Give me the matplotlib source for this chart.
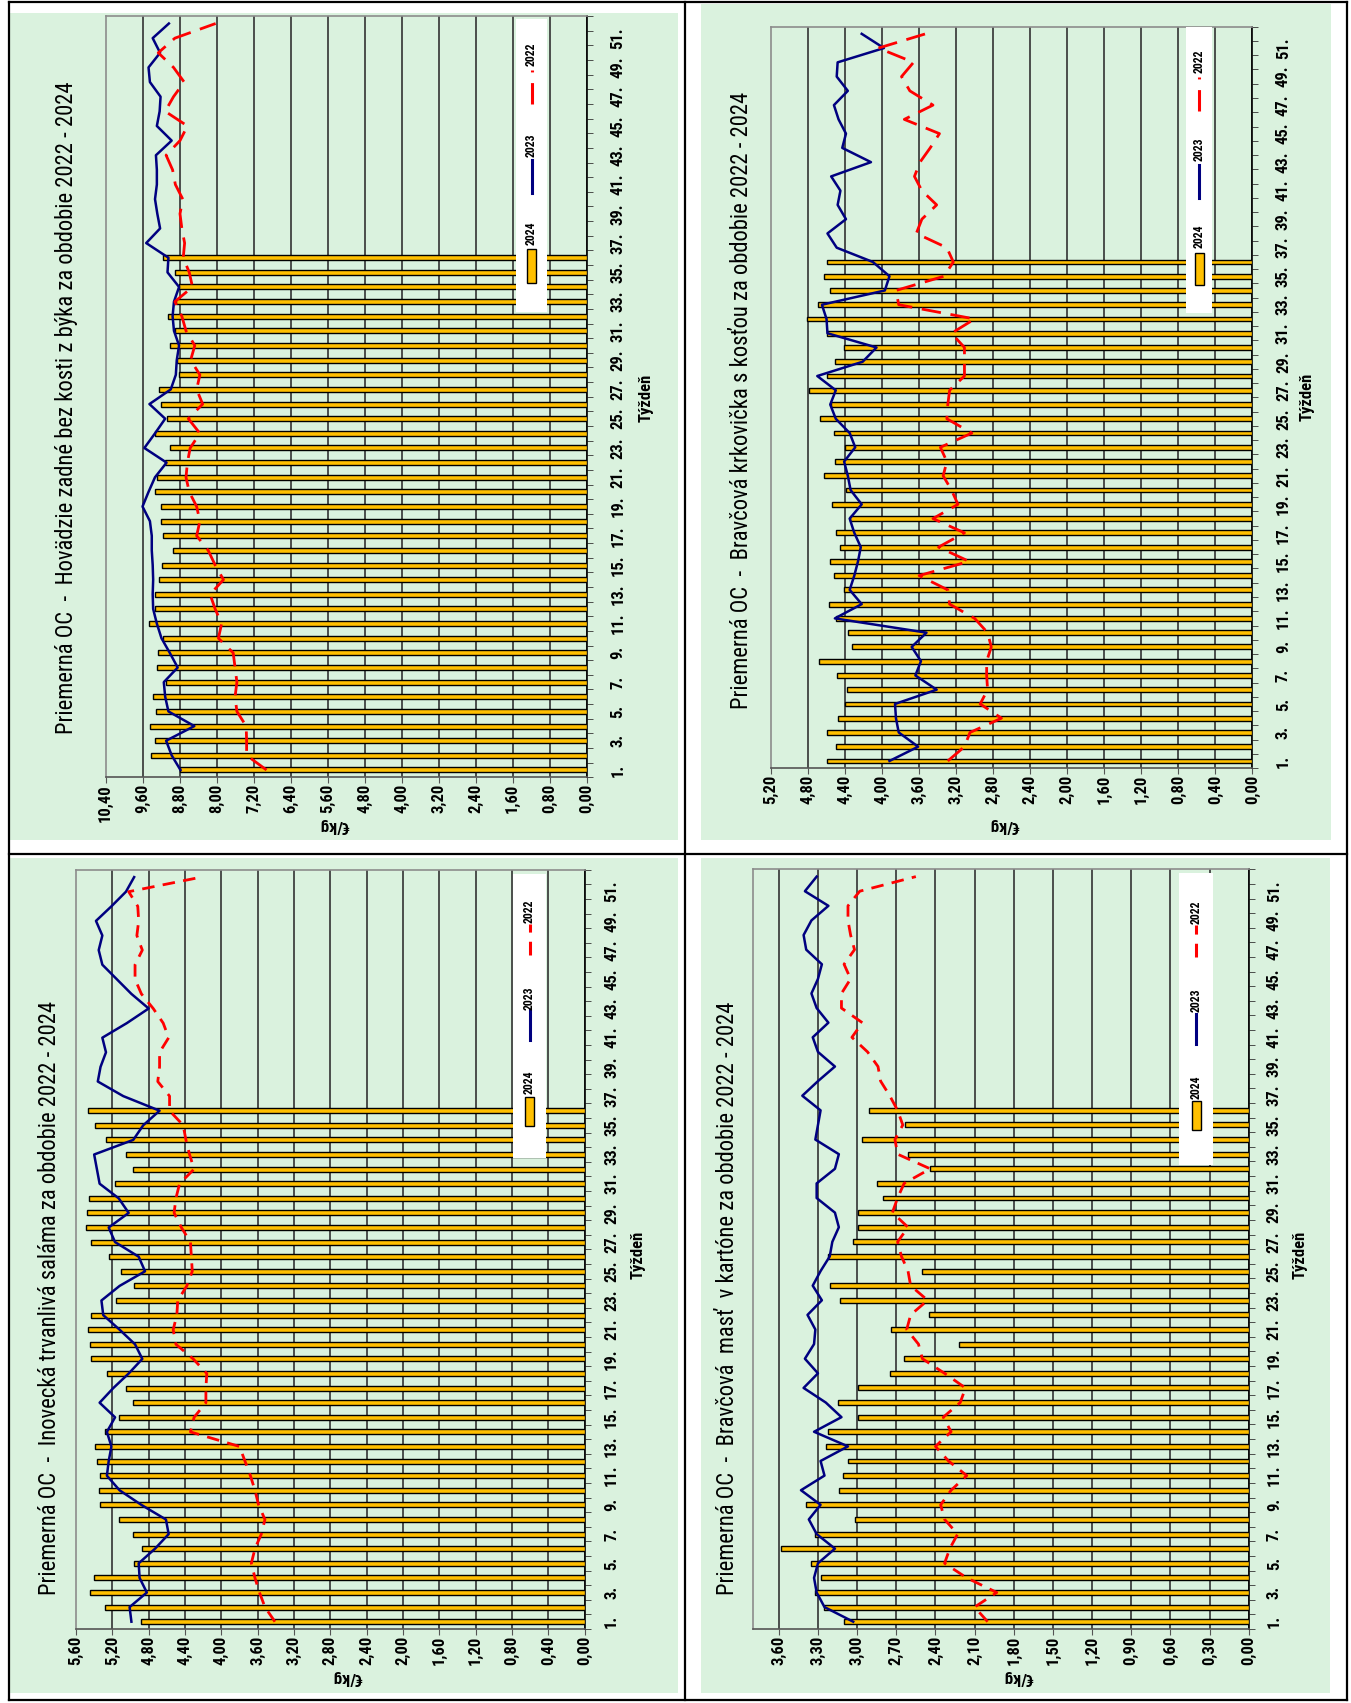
import numpy as np
import matplotlib
matplotlib.use("Agg")
import matplotlib.pyplot as plt
from matplotlib import font_manager
from matplotlib.patches import Rectangle
from matplotlib.lines import Line2D

W, H = 1351, 1703

weeks = np.arange(1, 53)
week_ticks = list(range(1, 52, 2))
week_labels = [f"{w}." for w in week_ticks]
series_names = ["2024", "2023", "2022"]

# Hovadzie zadne bez kosti z byka (EUR/kg)
beef_2024 = [8.79, 9.42, 9.32, 9.43, 9.31, 9.38, 9.10, 9.28, 9.27, 9.16,
             9.47, 9.32, 9.33, 9.24, 9.18, 8.95, 9.16, 9.19, 9.19, 9.34,
             9.29, 9.11, 9.01, 9.32, 9.08, 9.21, 9.25, 8.82, 8.85, 9.01,
             8.89, 9.06, 8.87, 8.82, 8.89, 9.16]
beef_2023 = [8.78, 8.97, 9.09, 8.48, 9.04, 9.11, 9.14, 8.84, 9.01, 9.19,
             9.29, 9.37, 9.38, 9.37, 9.38, 9.40, 9.40, 9.44, 9.60, 9.47,
             9.33, 9.08, 9.56, 9.33, 9.11, 9.45, 8.99, 8.88, 8.86, 8.81,
             8.92, 8.95, 8.92, 8.81, 9.06, 9.04, 9.52, 9.22, 9.28, 9.33,
             9.29, 9.29, 9.31, 8.97, 9.29, 9.23, 9.21, 9.44, 9.47, 9.22,
             9.38, 9.03]
beef_2022 = [6.92, 7.35, 7.35, 7.36, 7.56, 7.60, 7.56, 7.60, 7.64, 7.96,
             7.89, 8.03, 8.14, 7.85, 8.03, 8.18, 8.43, 8.36, 8.43, 8.59,
             8.66, 8.63, 8.57, 8.36, 8.61, 8.30, 8.43, 8.36, 8.56, 8.47,
             8.66, 8.75, 8.90, 8.52, 8.59, 8.72, 8.69, 8.75, 8.79, 8.73,
             8.89, 8.95, 9.09, 8.79, 8.63, 9.11, 8.93, 8.70, 8.93, 9.26,
             8.90, 8.02]

# Bravcova krkovicka s kostou
neck_2024 = [4.60, 4.50, 4.60, 4.48, 4.40, 4.38, 4.49, 4.68, 4.33, 4.37,
             4.50, 4.57, 4.41, 4.52, 4.56, 4.45, 4.50, 4.35, 4.54, 4.39,
             4.63, 4.51, 4.40, 4.52, 4.67, 4.55, 4.79, 4.59, 4.51, 4.41,
             4.60, 4.81, 4.69, 4.56, 4.63, 4.60]
neck_2023 = [3.92, 3.61, 3.82, 3.85, 3.86, 3.41, 3.64, 3.58, 3.68, 3.52,
             4.51, 4.22, 4.35, 4.30, 4.26, 4.23, 4.30, 4.35, 4.22, 4.34,
             4.37, 4.41, 4.29, 4.35, 4.50, 4.56, 4.50, 4.70, 4.21, 4.06,
             4.59, 4.60, 4.65, 3.97, 3.92, 4.10, 4.49, 4.59, 4.39, 4.48,
             4.45, 4.55, 4.12, 4.43, 4.39, 4.47, 4.52, 4.37, 4.49, 4.48,
             3.98, 4.22]
neck_2022 = [3.29, 3.11, 3.05, 2.71, 2.94, 2.86, 2.87, 2.87, 2.82, 2.86,
             3.00, 3.27, 3.29, 3.60, 3.06, 3.39, 3.11, 3.45, 3.18, 3.25,
             3.34, 3.30, 3.37, 3.03, 3.30, 3.29, 3.27, 3.11, 3.11, 3.11,
             3.25, 3.00, 3.82, 3.85, 3.33, 3.23, 3.30, 3.63, 3.57, 3.41,
             3.57, 3.65, 3.59, 3.48, 3.38, 3.76, 3.45, 3.70, 3.79, 3.66,
             4.04, 3.53]

# Inovecka trvanliva salama
salami_2024 = [4.88, 5.28, 5.45, 5.40, 4.96, 4.87, 4.97, 5.13, 5.34, 5.35,
               5.34, 5.37, 5.39, 5.28, 5.13, 4.97, 5.05, 5.26, 5.43, 5.45,
               5.47, 5.43, 5.16, 4.96, 5.10, 5.24, 5.43, 5.49, 5.48, 5.46,
               5.17, 4.97, 5.05, 5.27, 5.39, 5.47]
salami_2023 = [4.99, 5.01, 4.82, 4.90, 4.91, 4.73, 4.58, 4.61, 4.88, 5.12,
               5.26, 5.24, 5.21, 5.26, 5.17, 5.34, 5.19, 5.02, 4.87, 4.95,
               5.12, 5.30, 5.32, 5.12, 4.84, 4.91, 5.17, 5.24, 5.02, 5.13,
               5.34, 5.37, 5.40, 4.97, 4.86, 4.68, 5.08, 5.36, 5.33, 5.27,
               5.31, 5.04, 4.80, 4.99, 5.15, 5.31, 5.35, 5.31, 5.38, 5.21,
               5.05, 4.96]
salami_2022 = [3.41, 3.52, 3.58, 3.63, 3.67, 3.63, 3.56, 3.52, 3.59, 3.63,
               3.68, 3.74, 3.80, 4.34, 4.30, 4.17, 4.17, 4.16, 4.31, 4.50,
               4.53, 4.49, 4.48, 4.38, 4.32, 4.33, 4.34, 4.44, 4.52, 4.50,
               4.46, 4.30, 4.35, 4.39, 4.42, 4.57, 4.57, 4.70, 4.68, 4.68,
               4.58, 4.64, 4.75, 4.88, 4.95, 4.95, 4.87, 4.93, 4.91, 4.92,
               5.02, 4.22]

# Bravcova mast v kartone
lard_2024 = [3.10, 3.25, 3.32, 3.28, 3.35, 3.58, 3.32, 3.02, 3.39, 3.14,
             3.11, 3.07, 3.24, 3.22, 2.99, 3.15, 2.99, 2.75, 2.64, 2.22,
             2.74, 2.45, 3.13, 3.21, 2.50, 3.22, 3.03, 2.99, 2.99, 2.80,
             2.85, 2.44, 2.61, 2.96, 2.63, 2.91]
lard_2023 = [3.03, 3.25, 3.31, 3.33, 3.30, 3.17, 3.31, 3.37, 3.28, 3.43,
             3.25, 3.28, 3.07, 3.33, 3.12, 3.24, 3.41, 3.30, 3.40, 3.33,
             3.32, 3.38, 3.27, 3.34, 3.28, 3.21, 3.19, 3.14, 3.17, 3.31,
             3.31, 3.17, 3.14, 3.32, 3.30, 3.28, 3.42, 3.30, 3.17, 3.30,
             3.34, 3.22, 3.31, 3.35, 3.30, 3.27, 3.39, 3.41, 3.35, 3.22,
             3.40, 3.31]
lard_2022 = [2.00, 2.10, 1.93, 2.16, 2.33, 2.29, 2.23, 2.33, 2.36, 2.28,
             2.16, 2.30, 2.40, 2.28, 2.34, 2.21, 2.17, 2.33, 2.50, 2.53,
             2.62, 2.59, 2.46, 2.59, 2.61, 2.66, 2.69, 2.61, 2.73, 2.69,
             2.64, 2.44, 2.69, 2.71, 2.65, 2.69, 2.75, 2.82, 2.84, 2.92,
             3.04, 2.96, 3.12, 3.12, 3.05, 3.10, 3.02, 3.05, 3.07, 3.07,
             2.98, 2.55]

titles = [
    "Priemerná OC  -  Hovädzie zadné bez kosti z býka za obdobie 2022 - 2024",
    "Priemerná OC  -  Bravčová krkovička s kosťou za obdobie 2022 - 2024",
    "Priemerná OC  -  Inovecká trvanlivá saláma za obdobie 2022 - 2024",
    "Priemerná OC  -  Bravčová  masť  v kartóne za obdobie 2022 - 2024",
]
x_label = "Týždeň"
y_label = "€/kg"

GREEN = "#DAF2DE"
GOLD = "#FFC000"
NAVY = "#000080"
RED = "#FF0000"


def pick_font():
    # the original uses a narrow face; take one if it is installed
    for name in ["Liberation Sans Narrow", "Noto Sans Condensed",
                 "DejaVu Sans Condensed", "Roboto Condensed"]:
        try:
            font_manager.findfont(font_manager.FontProperties(family=name),
                                  fallback_to_default=False)
            return name, True
        except ValueError:
            pass
    return "Liberation Sans", False


font_name, narrow = pick_font()
plt.rcParams["font.family"] = [font_name, "DejaVu Sans"]
TITLE_SIZE = 16.3 if narrow else 14
TICK_SIZE = 12 if narrow else 11

fig = plt.figure(figsize=(W / 100, H / 100), dpi=100)
fig.patch.set_facecolor("white")


def fx(x):
    return x / W


def fy(y):
    return 1 - y / H


def fig_line(x0, y0, x1, y1, **kw):
    fig.add_artist(Line2D([fx(x0), fx(x1)], [fy(y0), fy(y1)],
                          transform=fig.transFigure, **kw))


def fig_rect(l, t, r, b, **kw):
    fig.add_artist(Rectangle((fx(l), fy(b)), (r - l) / W, (b - t) / H,
                             transform=fig.transFigure, **kw))


def fig_text(x, y, s, **kw):
    fig.text(fx(x), fy(y), s, ha="center", va="center", **kw)


def panel(p, bars, s23, s22, title):
    fig_rect(*p["green"], facecolor=GREEN, edgecolor="none", zorder=-2)

    l, t, r, b = p["plot"]
    ax = fig.add_axes([fx(l), fy(b), (r - l) / W, (b - t) / H])
    ax.set_facecolor(GREEN)

    ax.barh(weeks[:len(bars)], bars, height=0.34, color=GOLD,
            edgecolor="black", linewidth=1.0, zorder=3)
    ax.plot(s23, weeks, color=NAVY, lw=1.8, zorder=4)
    ax.plot(s22, weeks, color=RED, lw=2.0, dashes=p["dash"], zorder=4)

    xmax, step = p["xmax"], p["step"]
    ax.set_xlim(xmax, 0)
    ax.set_ylim(0.5, 52.5)

    xt = np.round(np.arange(0, xmax + 1e-9, step), 2)
    ax.set_xticks(xt)
    ax.set_xticklabels([f"{v:.2f}".replace(".", ",") for v in xt],
                       rotation=90, fontsize=TICK_SIZE, fontweight="bold")
    ax.xaxis.grid(True, color="#333333", lw=1.2)
    ax.set_axisbelow(True)
    for gl, v in zip(ax.get_xgridlines(), xt):
        if abs(v - xmax) < 1e-6:
            gl.set_visible(False)
    ax.tick_params(axis="x", length=4, color="#555555", pad=1)

    ax.yaxis.tick_right()
    ax.set_yticks(week_ticks)
    ax.set_yticklabels(week_labels, rotation=90, va="center",
                       fontsize=TICK_SIZE, fontweight="bold")
    ax.set_yticks(np.arange(0.5, 53, 1), minor=True)
    ax.tick_params(axis="y", which="major", length=0, pad=p["ypad"])
    ax.tick_params(axis="y", which="minor", length=4, color="#333333")

    for s in ("left", "top"):
        ax.spines[s].set_color("#8c8c8c")
    ax.spines["right"].set_color("black")
    ax.spines["bottom"].set_color("#555555")
    for s in ax.spines.values():
        s.set_linewidth(1.2)

    fig_text(*p["title"], title, rotation=90, fontsize=TITLE_SIZE)
    fig_text(*p["week"], x_label, rotation=90, fontsize=12, fontweight="bold")
    fig_text(*p["unit"], y_label, rotation=180, fontsize=12, fontweight="bold")

    # legend, drawn turned like the rest of the chart
    bl, bt, br, bb = p["legend"]
    fig_rect(bl, bt, br, bb, facecolor="white", edgecolor="none", zorder=5)
    cx = (bl + br) / 2
    (t22, d22), (t23, d23), (t24, d24) = p["entries"]
    fig_text(cx, t22, series_names[2], rotation=90, fontsize=8.5,
             fontweight="bold", zorder=6)
    fig_line(cx, d22[1], cx, d22[0], color=RED, lw=2.2, dashes=p["dash"], zorder=6)
    fig_text(cx, t23, series_names[1], rotation=90, fontsize=8.5,
             fontweight="bold", zorder=6)
    fig_line(cx, d23[1], cx, d23[0], color=NAVY, lw=2.2, zorder=6)
    fig_text(cx, t24, series_names[0], rotation=90, fontsize=8.5,
             fontweight="bold", zorder=6)
    fig_rect(cx - 4.5, d24[0], cx + 4.5, d24[1], facecolor=GOLD,
             edgecolor="black", lw=1.0, zorder=6)
    return ax


layout = [
    dict(green=(10, 13, 678, 840), plot=(105.5, 16.2, 586.7, 777.3),
         xmax=10.4, step=0.8, dash=(7, 3.5), ypad=17,
         title=(67, 408), week=(646, 398), unit=(334, 826),
         legend=(516, 19, 547, 312),
         entries=[(54, (70, 104)), (145, (160, 193)), (233, (249, 283))]),
    dict(green=(701, 4, 1331, 840), plot=(771, 26.7, 1252.3, 768.1),
         xmax=5.2, step=0.4, dash=(7, 3.5), ypad=17,
         title=(742, 400), week=(1307, 397), unit=(1004, 826),
         legend=(1186, 27, 1212, 313),
         entries=[(61, (77, 111)), (149, (165, 198)), (236, (253, 285))]),
    dict(green=(10, 858, 678, 1693), plot=(76, 869.8, 584.7, 1629),
         xmax=5.6, step=0.4, dash=(4.5, 3), ypad=14,
         title=(50, 1298), week=(638, 1255), unit=(347, 1677),
         legend=(513, 874, 546, 1158),
         entries=[(911, (924, 955)), (998, (1010, 1040)), (1082, (1097, 1126))]),
    dict(green=(701, 858, 1330, 1693), plot=(752.7, 869.3, 1248.7, 1629),
         xmax=3.8, step=0.3, dash=(4.5, 3), ypad=13,
         title=(728, 1298), week=(1300, 1255), unit=(1018, 1677),
         legend=(1179, 873, 1213, 1165),
         entries=[(912, (925, 957)), (1000, (1014, 1044)), (1087, (1101, 1130))]),
]

data = [
    (beef_2024, beef_2023, beef_2022),
    (neck_2024, neck_2023, neck_2022),
    (salami_2024, salami_2023, salami_2022),
    (lard_2024, lard_2023, lard_2022),
]

for p, (b24, b23, b22), ttl in zip(layout, data, titles):
    panel(p, b24, b23, b22, ttl)

# outer frame and the two dividers
frame = dict(color="black", lw=1.6, zorder=10)
fig_line(8.5, 2, 1346.5, 2, **frame)
fig_line(8.5, 1700, 1346.5, 1700, **frame)
fig_line(8.5, 2, 8.5, 1700, **frame)
fig_line(1346.5, 2, 1346.5, 1700, **frame)
fig_line(8.5, 854, 1346.5, 854, **frame)
fig_line(684.5, 2, 684.5, 1700, **frame)

fig.savefig("out.png", dpi=100, facecolor="white")
